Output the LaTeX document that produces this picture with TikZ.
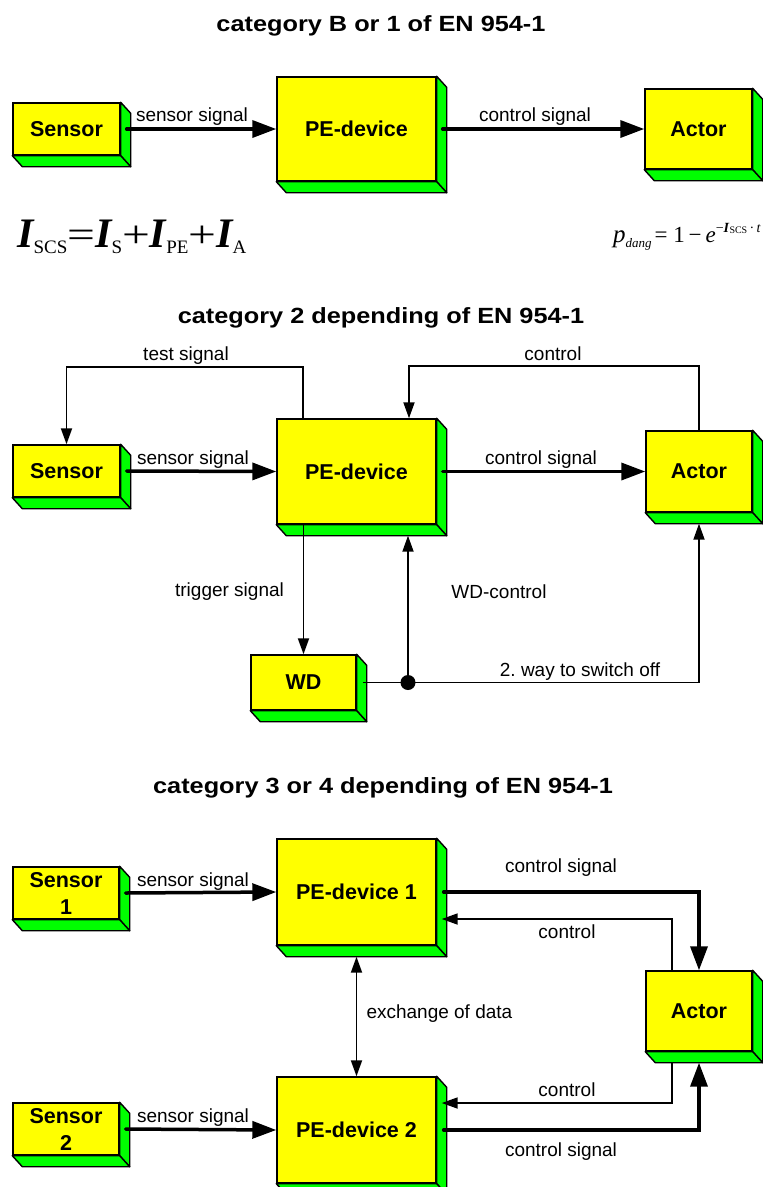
\documentclass[tikz,border=0pt]{standalone}
\usepackage{fontspec}
\setmainfont{Liberation Sans}
\newfontfamily\seriff{Liberation Serif}
\newfontfamily\titlefont{Liberation Sans}[FakeStretch=1.15]
\usetikzlibrary{arrows.meta,calc}
\definecolor{boxyellow}{RGB}{255,255,0}
\definecolor{boxgreen}{RGB}{0,255,0}
\frenchspacing
\tikzset{
 box/.style={draw, line width=1.4pt, fill=boxyellow, inner sep=0pt, align=center,
   font=\fontsize{21.5}{27}\selectfont\bfseries},
 face/.style={draw, line width=1.4pt, fill=boxgreen, line join=round},
 slim/.style={line width=1.8pt, -{Triangle[length=16pt,width=11pt]}},
 fat/.style={line width=3.5pt, line cap=round, -{Triangle[length=24pt,width=17pt]}},
 lbl/.style={font=\fontsize{19}{22}\selectfont, anchor=base},
 ttl/.style={font=\titlefont\fontsize{22}{26}\selectfont\bfseries, anchor=base},
}
\newcommand\depthfaces[1]{%
 \path[face] (#1.north east) -- ++(10,11) -- ($(#1.south east)+(10,11)$) -- (#1.south east) -- cycle;
 \path[face] (#1.south west) -- ++(10,11) -- ($(#1.south east)+(10,11)$) -- (#1.south east) -- cycle;
}
\newcommand\bigI{{\fontsize{42}{42}\selectfont\bfseries\itshape I}}
\newcommand\subs[1]{\raisebox{-6pt}{\fontsize{19}{19}\selectfont #1}}
\newcommand\bigop[1]{\scalebox{1.3}[1]{\fontsize{38}{38}\selectfont #1}}
\begin{document}
\begin{tikzpicture}[x=1pt,y=-1pt]
\useasboundingbox (0,0) rectangle (763,1187);
% titles
\node[ttl] (t1) at (381,31) {category B or 1 of EN 954-1};
\node[ttl] (t2) at (381,323) {category 2 depending of EN 954-1};
\node[ttl] (t3) at (383,793) {category 3 or 4 depending of EN 954-1};

% ---------- section 1
\node[box, minimum width=107pt, minimum height=52pt] (s1) at (66.5,129) {Sensor};
\depthfaces{s1}
\node[box, minimum width=159pt, minimum height=104pt] (p1) at (356.5,129) {PE-device};
\depthfaces{p1}
\node[box, minimum width=107pt, minimum height=80pt] (a1) at (698.5,129) {Actor};
\depthfaces{a1}
\draw[fat] ([xshift=6pt]s1.east) -- (p1.west);
\draw[fat] ([xshift=6pt]p1.east) -- (a1.west);
\node[lbl] (l11) at (192,121.5) {sensor signal};
\node[lbl] (l12) at (535,121) {control signal};

\node[anchor=base west, font=\seriff, inner sep=0pt] (f1) at (17,247)
 {\bigI\subs{SCS}\bigop{=}\bigI\subs{S}\bigop{+}\bigI\subs{PE}\bigop{+}\bigI\subs{A}};
\node[anchor=base west, font=\seriff, inner sep=0pt] (f2) at (613,242)
 {{\fontsize{25}{25}\selectfont\itshape p}\raisebox{-5pt}{\fontsize{13}{13}\selectfont\itshape dang}\kern3pt%
  {\fontsize{23}{23}\selectfont = 1\,−\,\itshape e}%
  \raisebox{10pt}{\fontsize{14}{14}\selectfont −\textbf{\textit{I}}\raisebox{-1pt}{\fontsize{10}{10}\selectfont SCS}\,·\,\itshape t}};

% ---------- section 2
\node[box, minimum width=107pt, minimum height=52pt] (s2) at (66.5,471) {Sensor};
\depthfaces{s2}
\node[box, minimum width=159pt, minimum height=105pt] (p2) at (356.5,471.5) {PE-device};
\depthfaces{p2}
\node[box, minimum width=106pt, minimum height=81pt] (a2) at (699,471.5) {Actor};
\depthfaces{a2}
\node[box, minimum width=105pt, minimum height=55pt] (wd) at (303.5,682.5) {WD};
\depthfaces{wd}
\coordinate (dot) at (408,682.5);

\draw[fat] ([xshift=6pt]s2.east) -- (p2.west);
\draw[fat] ([xshift=6pt]p2.east) -- (a2.west);
\draw[slim] ([xshift=-53.5pt]p2.north) -- ++(0,-51) -| (s2.north);
\draw[slim] (a2.north) -- ++(0,-64) -| ([xshift=52.5pt]p2.north);
\draw[slim] (wd.north |- p2.south) -- (wd.north);
\draw[slim] ([xshift=6pt]wd.east) -| ([yshift=-11pt]a2.south);
\draw[slim] (dot) -- ([yshift=-11pt]p2.south -| dot);
\fill (dot) circle (7.5pt);

\node[lbl] (l21) at (186,360) {test signal};
\node[lbl] (l22) at (553,360) {control};
\node[lbl] (l23) at (193,464) {sensor signal};
\node[lbl] (l24) at (541,464) {control signal};
\node[lbl] (l25) at (229.5,596) {trigger signal};
\node[lbl] (l26) at (499,598) {WD-control};
\node[lbl] (l27) at (580,676) {2. way to switch off};

% ---------- section 3
\node[box, minimum width=106pt, minimum height=52pt] (s3a) at (66,893) {Sensor\\1};
\depthfaces{s3a}
\node[box, minimum width=106pt, minimum height=52pt] (s3b) at (66,1129) {Sensor\\2};
\depthfaces{s3b}
\node[box, minimum width=159pt, minimum height=106pt] (p3a) at (356.5,892) {PE-device 1};
\depthfaces{p3a}
\node[box, minimum width=159pt, minimum height=106pt] (p3b) at (356.5,1130) {PE-device 2};
\depthfaces{p3b}
\node[box, minimum width=106pt, minimum height=80pt] (a3) at (699,1011) {Actor};
\depthfaces{a3}

\draw[fat] ([xshift=6pt]s3a.east) -- (p3a.west);
\draw[fat] ([xshift=6pt]s3b.east) -- (p3b.west);
\draw[fat] ([xshift=7pt]p3a.east) -| (a3.north);
\draw[slim] ([xshift=-27pt]a3.north) |- ([xshift=5pt,yshift=-27pt]p3a.east);
\draw[slim] ([xshift=-27pt,yshift=-11pt]a3.south) |- ([xshift=5pt,yshift=27pt]p3b.east);
\draw[fat] ([xshift=7pt]p3b.east) -| ([yshift=-11pt]a3.south);
\draw[slim, {Triangle[length=16pt,width=11pt]}-{Triangle[length=16pt,width=11pt]}] ([yshift=-11pt]p3a.south) -- (p3b.north);

\node[lbl] (l31) at (193,886) {sensor signal};
\node[lbl] (l32) at (193,1122) {sensor signal};
\node[lbl] (l33) at (561,872) {control signal};
\node[lbl] (l34) at (567,938) {control};
\node[lbl] (l35) at (567,1096) {control};
\node[lbl] (l36) at (561,1156) {control signal};
\node[lbl, anchor=base west] (l37) at (363,1018) {exchange of data};
\end{tikzpicture}
\end{document}
